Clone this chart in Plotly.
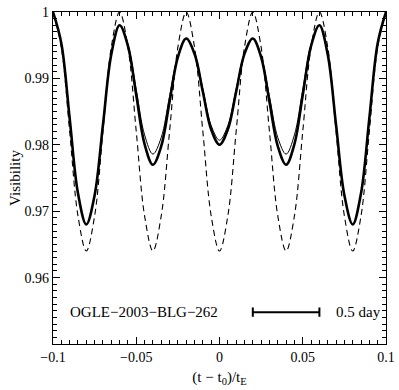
import plotly.graph_objects as go

# time axis (t - t0)/tE, sampled every 0.005
t = [round(-0.1 + 0.005 * i, 3) for i in range(41)]

# dashed curve
vis_dashed = [1.000, 0.9947, 0.982, 0.9693, 0.964, 0.9693, 0.982, 0.9947,
              1.000, 0.9947, 0.982, 0.9693, 0.964, 0.9693, 0.982, 0.9947,
              1.000, 0.9947, 0.982, 0.9693, 0.964, 0.9693, 0.982, 0.9947,
              1.000, 0.9947, 0.982, 0.9693, 0.964, 0.9693, 0.982, 0.9947,
              1.000, 0.9947, 0.982, 0.9693, 0.964, 0.9693, 0.982, 0.9947,
              1.000]

# thick solid curve
vis_thick = [1.000, 0.9953, 0.984, 0.9727, 0.968, 0.9724, 0.983, 0.9936,
             0.998, 0.9949, 0.9875, 0.9801, 0.977, 0.9798, 0.9865, 0.9932,
             0.996, 0.9937, 0.988, 0.9823, 0.980, 0.9823, 0.988, 0.9937,
             0.996, 0.9932, 0.9865, 0.9798, 0.977, 0.9801, 0.9875, 0.9949,
             0.998, 0.9936, 0.983, 0.9724, 0.968, 0.9727, 0.984, 0.9953,
             1.000]

# thin solid curve
vis_thin = [1.000, 0.9953, 0.984, 0.9727, 0.968, 0.9724, 0.983, 0.9936,
            0.998, 0.9951, 0.9883, 0.9815, 0.9786, 0.9811, 0.9873, 0.9934,
            0.996, 0.9938, 0.9884, 0.9829, 0.9807, 0.9829, 0.9884, 0.9938,
            0.996, 0.9934, 0.9873, 0.9811, 0.9786, 0.9815, 0.9883, 0.9951,
            0.998, 0.9936, 0.983, 0.9724, 0.968, 0.9727, 0.984, 0.9953,
            1.000]

# scale bar (0.5 day) and label position
bar_x = [0.02, 0.06]
label_y = 0.9548

font = dict(family="Liberation Serif", size=15, color="black")
tick_font = dict(family="Liberation Serif", size=14, color="black")

fig = go.Figure()
fig.add_trace(go.Scatter(x=t, y=vis_dashed, mode="lines", line_shape="spline",
                         line=dict(color="black", width=1.1, dash="6px,4px")))
fig.add_trace(go.Scatter(x=t, y=vis_thin, mode="lines", line_shape="spline",
                         line=dict(color="black", width=1)))
fig.add_trace(go.Scatter(x=t, y=vis_thick, mode="lines", line_shape="spline",
                         line=dict(color="black", width=2.6)))

# scale bar with end caps
fig.add_shape(type="line", x0=bar_x[0], x1=bar_x[1], y0=label_y, y1=label_y,
              line=dict(color="black", width=2))
for bx in bar_x:
    fig.add_shape(type="line", x0=bx, x1=bx, y0=label_y - 0.0007, y1=label_y + 0.0007,
                  line=dict(color="black", width=2))

fig.add_annotation(x=-0.0453, y=label_y, text="OGLE−2003−BLG−262", showarrow=False,
                   font=font, xanchor="center", yanchor="middle")
fig.add_annotation(x=0.0832, y=label_y, text="0.5 day", showarrow=False,
                   font=font, xanchor="center", yanchor="middle")

axis_common = dict(showgrid=False, zeroline=False, showline=True, linecolor="black",
                   linewidth=1.2, mirror="allticks", ticks="inside", ticklen=7,
                   tickcolor="black", tickwidth=1, tickfont=tick_font, automargin=False,
                   ticklabeloverflow="allow")

fig.update_xaxes(range=[-0.1, 0.1], tick0=-0.1, dtick=0.05,
                 minor=dict(dtick=0.005, tick0=-0.1, ticks="inside", ticklen=4,
                            tickcolor="black"),
                 title=dict(text="(t − t<sub>0</sub>)/t<sub>E</sub>", font=font, standoff=7),
                 **axis_common)
fig.update_yaxes(range=[0.95, 1.0], tick0=0.95, dtick=0.01,
                 labelalias={"0.95": ""},
                 minor=dict(dtick=0.001, tick0=0.95, ticks="inside", ticklen=4,
                            tickcolor="black"),
                 title=dict(text="Visibility", font=font, standoff=0),
                 **axis_common)

fig.update_layout(width=399, height=390, showlegend=False,
                  plot_bgcolor="white", paper_bgcolor="white",
                  margin=dict(l=53, r=13, t=12, b=46))

# drop the default 8px page margin so the figure fills the window
fig.write_html("out.html", config={"displayModeBar": False},
               post_script="document.body.style.margin='0px';")
